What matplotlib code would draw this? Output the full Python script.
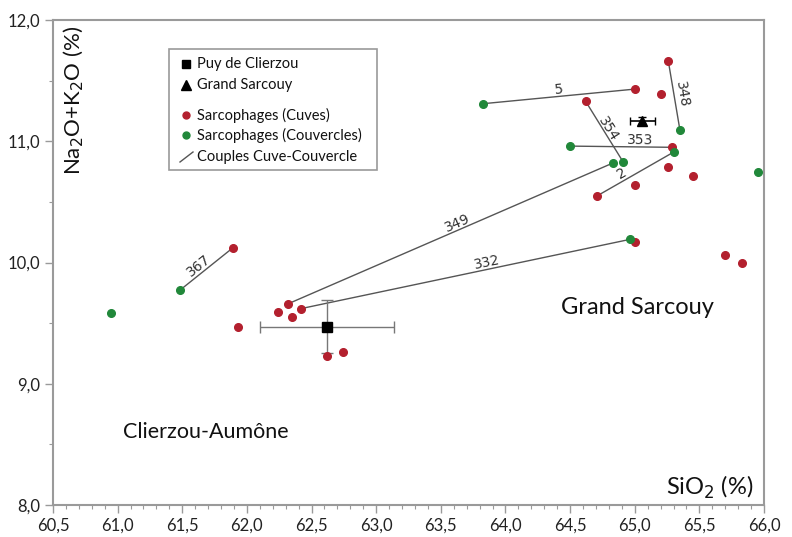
import numpy as np
import matplotlib
matplotlib.use("Agg")
import matplotlib.pyplot as plt
from matplotlib.ticker import MultipleLocator, FuncFormatter
from matplotlib.patches import Rectangle

# ---- data ----
cuves_x = [65.26, 65.20, 65.00, 64.62, 65.29, 65.26, 65.45, 65.00, 64.71,
           65.00, 65.70, 65.83, 61.89, 62.32, 62.42, 62.24, 62.35, 61.93,
           62.62, 62.74]
cuves_y = [11.66, 11.39, 11.43, 11.33, 10.95, 10.79, 10.71, 10.64, 10.55,
           10.17, 10.06, 10.00, 10.12, 9.66, 9.62, 9.59, 9.55, 9.47,
           9.23, 9.26]
couv_x = [63.83, 65.35, 64.91, 64.50, 65.30, 64.83, 64.96, 65.95, 61.48, 60.95]
couv_y = [11.31, 11.09, 10.83, 10.96, 10.91, 10.82, 10.19, 10.75, 9.77, 9.58]

# couples: label, cuve (x, y), couvercle (x, y)
couple_labels = ["5", "348", "354", "353", "2", "349", "332", "367"]
couple_cuve = [(65.00, 11.43), (65.26, 11.66), (64.62, 11.33), (65.29, 10.95),
               (64.71, 10.55), (62.32, 9.66), (62.42, 9.62), (61.89, 10.12)]
couple_couv = [(63.83, 11.31), (65.35, 11.09), (64.91, 10.83), (64.50, 10.96),
               (65.30, 10.91), (64.83, 10.82), (64.96, 10.19), (61.48, 9.77)]
label_frac = [0.50, 0.50, 0.50, 0.68, 0.63, 0.47, 0.43, 0.45]
label_off = [7, 8, 5, 7, 7, 7, 7, 7]

clierzou = (62.62, 9.47, 0.52, 0.22)   # x, y, xerr, yerr
sarcouy = (65.06, 11.17, 0.10, 0.03)

legend_labels = ["Puy de Clierzou", "Grand Sarcouy", "Sarcophages (Cuves)",
                 "Sarcophages (Couvercles)", "Couples Cuve-Couvercle"]

RED = "#b3202e"
GREEN = "#21883a"
GRAY = "#9a9a9a"
LBL = ["Lato", "DejaVu Sans"]

W, H = 792, 537
L, R, T, B = 53, 764, 20, 505
fig = plt.figure(figsize=(W / 100, H / 100), dpi=100)
ax = fig.add_axes([L / W, 1 - B / H, (R - L) / W, (B - T) / H])
ax.set_xlim(60.5, 66.0)
ax.set_ylim(8.0, 12.0)


def px2ax(px, py):
    return (px - L) / (R - L), (B - py) / (B - T)


# couple lines
for (cx, cy), (gx, gy) in zip(couple_cuve, couple_couv):
    ax.plot([cx, gx], [cy, gy], color="#555555", lw=1.0, zorder=2)

# error bars
ax.errorbar([clierzou[0]], [clierzou[1]], xerr=[clierzou[2]], yerr=[clierzou[3]],
            fmt="none", ecolor="#777777", elinewidth=1.0, capsize=4, zorder=3)
ax.plot([clierzou[0]], [clierzou[1]], marker="s", color="black", ms=7, ls="none", zorder=6)
ax.errorbar([sarcouy[0]], [sarcouy[1]], xerr=[sarcouy[2]], yerr=[sarcouy[3]],
            fmt="none", ecolor="black", elinewidth=1.2, capsize=3, zorder=3)
ax.plot([sarcouy[0]], [sarcouy[1]], marker="^", color="black", ms=7, ls="none", zorder=6)

# points
ax.plot(cuves_x, cuves_y, "o", color=RED, ms=5.5, ls="none", zorder=5, clip_on=False)
ax.plot(couv_x, couv_y, "o", color=GREEN, ms=5.5, ls="none", zorder=5, clip_on=False)

# line labels
for lab, (cx, cy), (gx, gy), t, off in zip(couple_labels, couple_cuve, couple_couv,
                                           label_frac, label_off):
    p1 = ax.transData.transform((gx, gy))
    p2 = ax.transData.transform((cx, cy))
    d = p2 - p1
    ang = np.degrees(np.arctan2(d[1], d[0]))
    if ang > 90:
        ang -= 180
    elif ang < -90:
        ang += 180
    th = np.radians(ang)
    mid = p1 + t * d
    pos = mid + off * np.array([-np.sin(th), np.cos(th)])
    dpos = ax.transData.inverted().transform(pos)
    ax.text(dpos[0], dpos[1], lab, rotation=ang, rotation_mode="anchor",
            ha="center", va="center", fontsize=10, color="#333333",
            family=["DejaVu Sans"], zorder=7)

# ticks & spines
fmt = FuncFormatter(lambda v, p: f"{v:.1f}".replace(".", ","))
ax.xaxis.set_major_locator(MultipleLocator(0.5))
ax.xaxis.set_minor_locator(MultipleLocator(0.1))
ax.yaxis.set_major_locator(MultipleLocator(1.0))
ax.yaxis.set_minor_locator(MultipleLocator(0.5))
ax.xaxis.set_major_formatter(fmt)
ax.yaxis.set_major_formatter(fmt)
ax.tick_params(which="major", direction="out", length=6, color=GRAY, width=1,
               labelsize=12, labelcolor="#222222", pad=3)
ax.tick_params(which="minor", direction="out", length=3, color=GRAY, width=0.8)
for lbl in ax.get_xticklabels() + ax.get_yticklabels():
    lbl.set_family(LBL)
for s in ax.spines.values():
    s.set_color(GRAY)
    s.set_linewidth(1.5)

# axis titles inside the plot
ax.text(*px2ax(74, 100), "Na$_2$O+K$_2$O (%)", transform=ax.transAxes, rotation=90,
        ha="center", va="center", fontsize=16, family=LBL, color="#111111")
ax.text(*px2ax(753, 487), "SiO$_2$ (%)", transform=ax.transAxes,
        ha="right", va="center", fontsize=17, family=LBL, color="#111111")
ax.text(*px2ax(637, 308), "Grand Sarcouy", transform=ax.transAxes,
        ha="center", va="center", fontsize=17, family=LBL, color="#111111")
ax.text(*px2ax(206, 432), "Clierzou-Aumône", transform=ax.transAxes,
        ha="center", va="center", fontsize=15.5, family=LBL, color="#111111")

# manual legend
x0, y1 = px2ax(169, 49)
x1, y0 = px2ax(377, 170)
ax.add_patch(Rectangle((x0, y0), x1 - x0, y1 - y0, transform=ax.transAxes,
                       facecolor="white", edgecolor=GRAY, lw=1.2, zorder=8))
rows = [64, 85, 115, 135, 157]
mk = [("s", "black", 6), ("^", "black", 7), ("o", RED, 5), ("o", GREEN, 5)]
for i, (m, c, s) in enumerate(mk):
    ax.plot(*px2ax(186, rows[i]), marker=m, color=c, ms=s, ls="none",
            transform=ax.transAxes, zorder=9)
la, lb = px2ax(180, 162), px2ax(193, 152)
ax.plot([la[0], lb[0]], [la[1], lb[1]], color="#555555", lw=1.0,
        transform=ax.transAxes, zorder=9)
for i, txt in enumerate(legend_labels):
    ax.text(*px2ax(197, rows[i]), txt, transform=ax.transAxes, ha="left",
            va="center", fontsize=10.5, family=LBL, color="#111111", zorder=9)

fig.savefig("out.png", dpi=100)
